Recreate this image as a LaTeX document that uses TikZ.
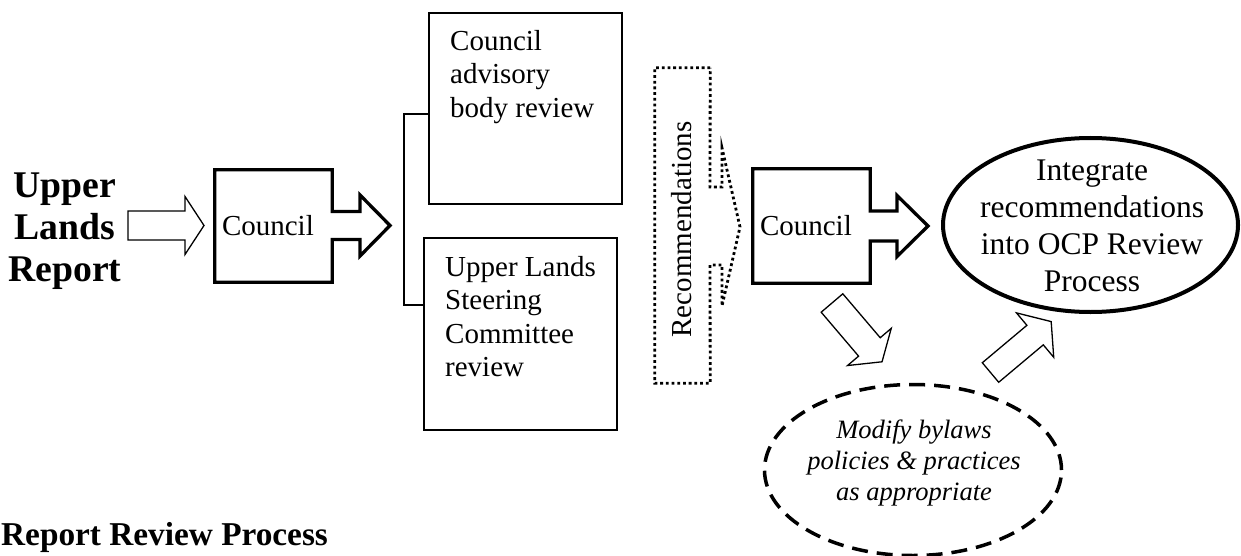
\documentclass[tikz,border=0pt]{standalone}
\usepackage{fontspec}
\setmainfont{Liberation Serif}
\usetikzlibrary{shapes.geometric}
\newcommand{\fbody}{\fontsize{29}{33.5}\selectfont}
\newcommand{\fovl}{\fontsize{31.5}{37}\selectfont}
\newcommand{\fital}{\fontsize{26.5}{31}\selectfont\itshape}
\newcommand{\flbl}{\fontsize{37.7}{42}\selectfont\bfseries}
\newcommand{\fttl}{\fontsize{33.3}{40}\selectfont\bfseries}
\newcommand{\blkarrow}[7]{%
  \begin{scope}[shift={#2},rotate=#3]
    \draw[#1] (0,-#5) -- (#4,-#5) -- (#4,-#6) -- ({#4+#7},0) -- (#4,#6) -- (#4,#5) -- (0,#5) -- cycle;
  \end{scope}}
\begin{document}
\begin{tikzpicture}[x=1pt,y=-1pt,
  thinbox/.style={draw, line width=1.8pt, inner sep=0pt},
  calloutline/.style={line width=3.3pt, line join=miter},
  whitearrow/.style={draw, line width=1.3pt, fill=white, line join=miter},
  plain/.style={inner sep=0pt},
  dotline/.style={line width=2.8pt, dash pattern=on 2.8pt off 2.9pt},
  bigoval/.style={draw, ellipse, line width=4pt, inner sep=0pt},
  dashoval/.style={draw, ellipse, line width=3.5pt, dash pattern=on 16pt off 9pt, inner sep=0pt}]
\useasboundingbox (0,0) rectangle (1241,556);

% left label
\node[plain, font=\flbl, align=center] (ulr) at (65,231) {Upper\\Lands\\Report};

% white arrow into first Council
\blkarrow{whitearrow}{(128,225.5)}{0}{57}{14.5}{29}{19}

% first Council callout
\node[plain, minimum width=117pt, minimum height=112pt] (c1) at (273.5,226) {};
\node[plain, anchor=west, font=\fbody] (c1t) at ([xshift=7pt]c1.west) {Council};
\draw[calloutline] (c1.north west) -- (c1.north east) |- (360,211.5) -- (360,195) -- (390,225.5)
  -- (360,256) -- (360,239.5) -| (c1.south east) -- (c1.south west) -- cycle;

% review boxes
\node[thinbox, minimum width=193pt, minimum height=191pt] (adv) at (525.5,108.5) {};
\node[plain, anchor=north west, font=\fbody, align=left] (advt) at (450,30) {Council\\advisory\\body review};
\node[thinbox, minimum width=193pt, minimum height=192pt] (usc) at (520.5,334) {};
\node[plain, anchor=north west, font=\fbody, align=left] (usct) at (445,256) {Upper Lands\\Steering\\Committee\\review};

% bracket
\coordinate (bt) at (404,114);
\coordinate (bb) at (404,305);
\draw[line width=1.5pt] (adv.west |- bt) -- (bt) -- (bb) -- (usc.west |- bb);

% Recommendations dotted arrow
\node[plain, minimum width=55pt, minimum height=315pt] (rec) at (682.5,225.5) {};
\node[plain, rotate=90, font=\fbody] (rect) at (682,229.5) {Recommendations};
\draw[dotline] (rec.north east) -- (rec.north west) -- (rec.south west) -- (rec.south east)
  -- (710,265) -- (722,265) -- (722,306) -- (740,227) -- (722,148) -- (722,187) -- (710,187) -- cycle;

% second Council callout
\node[plain, minimum width=117pt, minimum height=114pt] (c2) at (811.5,226) {};
\node[plain, anchor=west, font=\fbody] (c2t) at ([xshift=7pt]c2.west) {Council};
\draw[calloutline] (c2.north west) -- (c2.north east) |- (897,211) -- (897,195.5) -- (928,226)
  -- (897,256.5) -- (897,241) -| (c2.south east) -- (c2.south west) -- cycle;

% OCP ellipse
\node[bigoval, minimum width=295pt, minimum height=174pt] (ocp) at (1090.5,225) {};
\node[plain, font=\fovl, align=center] (ocpt) at (1092,226) {Integrate\\recommendations\\into OCP Review\\Process};

% dashed ellipse
\node[dashoval, minimum width=297pt, minimum height=171pt] (mod) at (913,470) {};
\node[plain, font=\fital, align=center] (modt) at (914,463) {Modify bylaws\\policies \& practices\\as appropriate};

% diagonal white arrows
\blkarrow{whitearrow}{(832,303)}{-49.6}{57.7}{14.2}{28.7}{19.5}
\blkarrow{whitearrow}{(990.5,372.5)}{40}{58.2}{12.75}{29}{21}

% title
\node[plain, anchor=base west, font=\fttl] (title) at (1,545) {Report Review Process};
\end{tikzpicture}
\end{document}
